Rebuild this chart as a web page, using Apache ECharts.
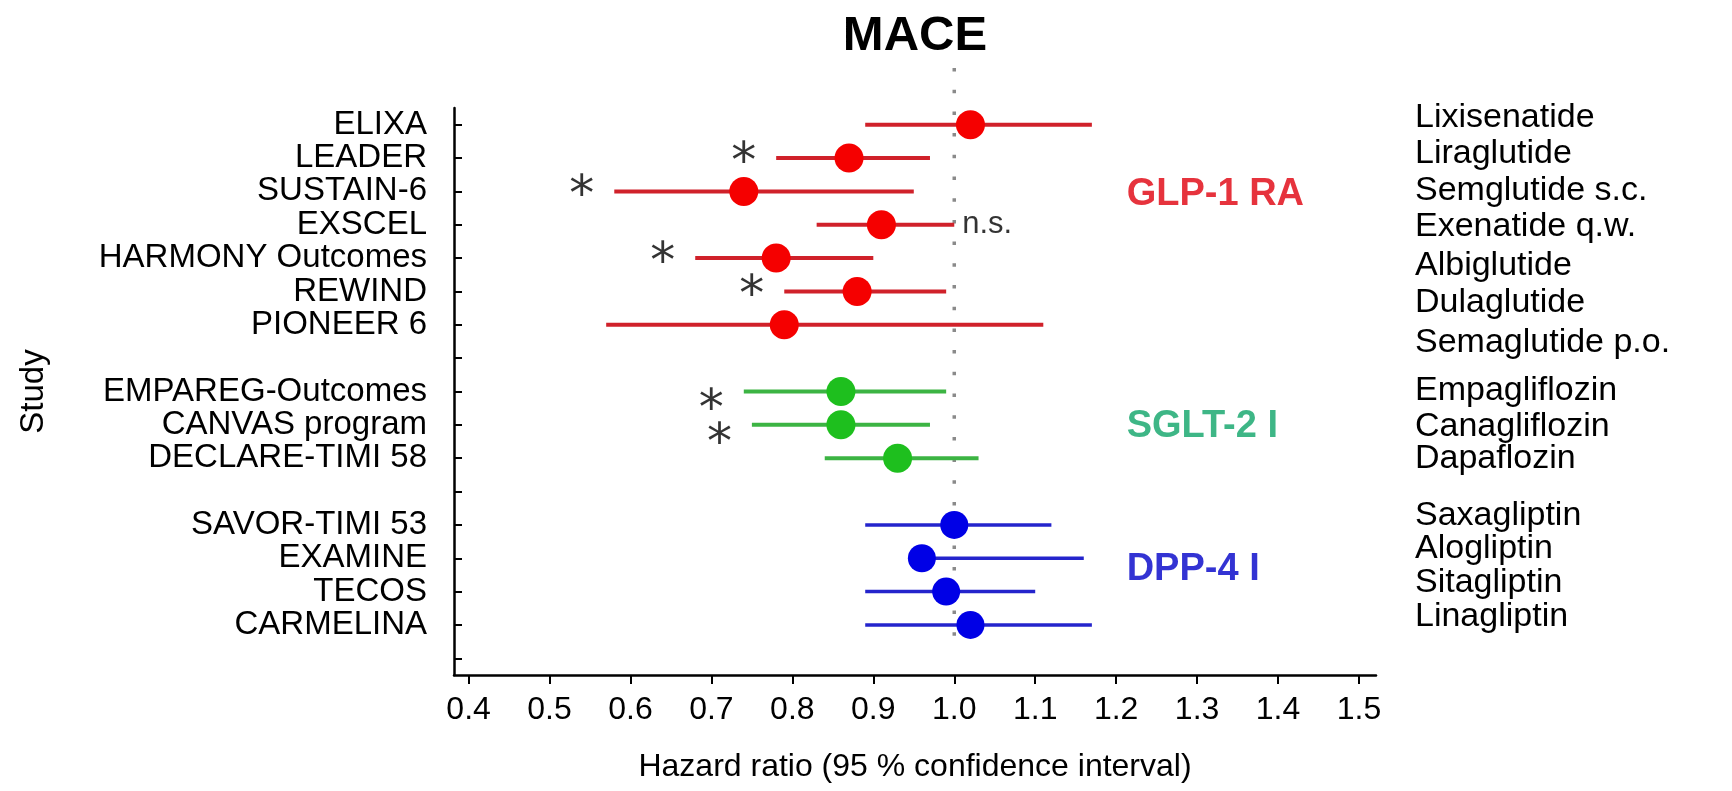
<!DOCTYPE html>
<html><head><meta charset="utf-8">
<script src="https://cdn.jsdelivr.net/npm/echarts@6/dist/echarts.min.js"></script>
<style>html,body{margin:0;padding:0;background:#fff}#chart{width:1732px;height:791px}</style>
</head><body><div id="chart"></div>
<script>
// ---------- data ----------
const studyLabels = ['ELIXA','LEADER','SUSTAIN-6','EXSCEL','HARMONY Outcomes','REWIND','PIONEER 6','',
  'EMPAREG-Outcomes','CANVAS program','DECLARE-TIMI 58','',
  'SAVOR-TIMI 53','EXAMINE','TECOS','CARMELINA',''];
const drugClass = ['GLP-1 RA','GLP-1 RA','GLP-1 RA','GLP-1 RA','GLP-1 RA','GLP-1 RA','GLP-1 RA',null,
  'SGLT-2 I','SGLT-2 I','SGLT-2 I',null,
  'DPP-4 I','DPP-4 I','DPP-4 I','DPP-4 I',null];
const hazardRatio = [1.02,0.87,0.74,0.91,0.78,0.88,0.79,null,0.86,0.86,0.93,null,1.00,0.96,0.99,1.02,null];
const ciLower     = [0.89,0.78,0.58,0.83,0.68,0.79,0.57,null,0.74,0.75,0.84,null,0.89,0.96,0.89,0.89,null];
const ciUpper     = [1.17,0.97,0.95,1.00,0.90,0.99,1.11,null,0.99,0.97,1.03,null,1.12,1.16,1.10,1.17,null];
const annotation  = ['','*','*','n.s.','*','*','',null,'*','*','',null,'','','','',null];
const drugNames = ['Lixisenatide','Liraglutide','Semglutide s.c.','Exenatide q.w.','Albiglutide','Dulaglutide',
  'Semaglutide p.o.','Empagliflozin','Canagliflozin','Dapaflozin','Saxagliptin','Alogliptin','Sitagliptin','Linagliptin'];
const classNames = ['GLP-1 RA','SGLT-2 I','DPP-4 I'];
const xTickValues = [0.4,0.5,0.6,0.7,0.8,0.9,1.0,1.1,1.2,1.3,1.4,1.5];
const referenceHR = 1.0;

// ---------- layout / style (not data) ----------
const drugLabelRows = [-0.22,0.86,1.99,3.05,4.22,5.35,6.52,7.98,9.05,10.02,11.72,12.72,13.72,14.75];
const classLabelX = 1.213;
const classLabelRows = [2.08, 9.05, 13.35];
const refLineRows = [-1.7, 15.75];
const FONT = '"Liberation Sans", Arial, sans-serif';
const classStyle = {
  'GLP-1 RA': {line:'#d0212a', dot:'#f50000', text:'#e0000c', lw:4, size:29, astDy:6},
  'SGLT-2 I': {line:'#3cb443', dot:'#1ebf1e', text:'#0ea468', lw:4, size:29, astDy:20},
  'DPP-4 I':  {line:'#2424cc', dot:'#0000e6', text:'#0000c8', lw:3.5, size:28, astDy:6}
};

const rowIdx = studyLabels.map((_, i) => i);
const yTickValues = rowIdx;

const errData = rowIdx.filter(i => hazardRatio[i] != null)
  .map(i => [ciLower[i], ciUpper[i], i, classNames.indexOf(drugClass[i])]);

const dotSeries = classNames.map(c => ({
  type: 'scatter', name: c, z: 5,
  symbol: 'circle', symbolSize: classStyle[c].size,
  itemStyle: {color: classStyle[c].dot, opacity: 1},
  data: rowIdx.filter(i => drugClass[i] === c).map(i => [hazardRatio[i], i])
}));

const chart = echarts.init(document.getElementById('chart'), null, {renderer: 'canvas'});
chart.setOption({
  animation: false,
  backgroundColor: '#fff',
  title: {
    text: 'MACE', left: 915, top: 12, textAlign: 'center', padding: 0,
    textStyle: {fontFamily: FONT, fontWeight: 'bold', fontSize: 49, color: '#000'}
  },
  grid: {left: 454, right: 356, top: 108, bottom: 116, containLabel: false},
  xAxis: {
    type: 'value', min: 0.382, max: 1.521,
    name: 'Hazard ratio (95 % confidence interval)', nameLocation: 'middle', nameGap: 76,
    nameTextStyle: {fontFamily: FONT, fontSize: 32, color: '#000'},
    axisLine: {show: true, onZero: false, lineStyle: {color: '#000', width: 2.5}},
    axisTick: {show: true, customValues: xTickValues, length: 9, lineStyle: {color: '#000', width: 2}},
    axisLabel: {customValues: xTickValues, formatter: v => v.toFixed(1), margin: 19,
      fontFamily: FONT, fontSize: 32, color: '#000'},
    splitLine: {show: false}
  },
  yAxis: [{
    type: 'value', min: -0.5, max: 16.5, inverse: true, position: 'left',
    name: 'Study', nameLocation: 'middle', nameGap: 404,
    nameTextStyle: {fontFamily: FONT, fontSize: 33, color: '#000'},
    axisLine: {show: true, onZero: false, lineStyle: {color: '#000', width: 2.5}},
    axisTick: {show: true, inside: true, customValues: yTickValues, length: 8, lineStyle: {color: '#000', width: 2}},
    axisLabel: {customValues: yTickValues, formatter: v => studyLabels[Math.round(v)] || '',
      margin: 27, fontFamily: FONT, fontSize: 33, color: '#000'},
    splitLine: {show: false}
  }, {
    type: 'value', min: -0.5, max: 16.5, inverse: true, position: 'right',
    axisLine: {show: false}, axisTick: {show: false}, splitLine: {show: false},
    axisLabel: {customValues: drugLabelRows,
      formatter: v => { const k = drugLabelRows.findIndex(r => Math.abs(r - v) < 1e-6); return k >= 0 ? drugNames[k] : ''; },
      margin: 39, fontFamily: FONT, fontSize: 34, color: '#000', align: 'left'}
  }],
  series: [
    {
      type: 'line', z: 1, clip: false, symbol: 'none', silent: true,
      data: refLineRows.map(r => [referenceHR, r]),
      lineStyle: {color: '#8a8a8a', width: 3.5, type: [3.5, 18.2]}
    },
    {
      type: 'custom', z: 3, clip: false,
      encode: {x: [0, 1], y: 2},
      data: errData,
      renderItem: (params, api) => {
        const a = api.coord([api.value(0), api.value(2)]);
        const b = api.coord([api.value(1), api.value(2)]);
        const st = classStyle[classNames[api.value(3)]];
        return {type: 'line', shape: {x1: a[0], y1: a[1], x2: b[0], y2: b[1]},
          style: {stroke: st.line, lineWidth: st.lw}};
      }
    },
    ...dotSeries,
    {
      type: 'scatter', z: 6, symbolSize: 0, silent: true,
      data: rowIdx.filter(i => annotation[i] === '*').map(i => ({value: [ciLower[i], i],
        label: {offset: [0, classStyle[drugClass[i]].astDy]}})),
      label: {show: true, position: 'left', distance: 20, formatter: () => '*',
        fontFamily: '"DejaVu Sans", sans-serif', fontSize: 50, color: '#000'}
    },
    {
      type: 'scatter', z: 6, symbolSize: 0, silent: true,
      data: rowIdx.filter(i => annotation[i] === 'n.s.').map(i => [ciUpper[i], i]),
      label: {show: true, position: 'right', distance: 8, formatter: () => 'n.s.',
        fontFamily: FONT, fontSize: 31, color: '#000'}
    },
    {
      type: 'scatter', z: 6, symbolSize: 0, silent: true,
      data: classNames.map((c, k) => ({value: [classLabelX, classLabelRows[k]],
        label: {color: classStyle[c].text}})),
      label: {show: true, position: 'right', distance: 0,
        formatter: p => classNames[p.dataIndex],
        fontFamily: FONT, fontWeight: 'bold', fontSize: 38}
    }
  ]
});
</script></body></html>
